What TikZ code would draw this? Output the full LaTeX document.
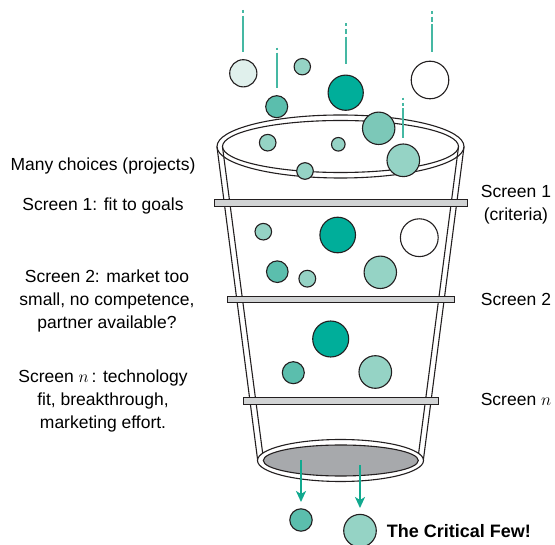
\documentclass[tikz,border=0pt]{standalone}
\usepackage{fontspec}
\setmainfont{Liberation Sans}
\usetikzlibrary{arrows.meta}
\definecolor{tealD}{HTML}{00AE9A}
\definecolor{tealM}{HTML}{5BBEAD}
\definecolor{tealL}{HTML}{95D3C5}
\definecolor{tealLL}{HTML}{7CC8B8}
\definecolor{paleT}{HTML}{E0F0EC}
\definecolor{lineT}{HTML}{45B8A3}
\definecolor{arrowT}{HTML}{12A98F}
\definecolor{outl}{HTML}{231F20}
\definecolor{barG}{HTML}{D1D3D4}
\definecolor{ellG}{HTML}{A7A9AC}
\begin{document}
\begin{tikzpicture}[x=1pt,y=-1pt,
  ball/.style={circle, draw=outl, line width=1.1pt, inner sep=0pt, outer sep=0pt},
  wall/.style={draw=outl, line width=1.1pt},
  barbox/.style={draw=outl, fill=barG, line width=1pt},
  dropline/.style={draw=lineT, line width=2pt, line cap=butt},
  flow/.style={draw=arrowT, line width=2.2pt, -{Stealth[length=11pt,width=10pt,inset=3pt]}},
  lbl/.style={font=\fontsize{17.5}{22.8}\selectfont, align=center, inner sep=0pt, anchor=base},
  bold/.style={font=\fontsize{18}{22}\selectfont\bfseries, inner sep=0pt, anchor=base west}]
\useasboundingbox (0,0) rectangle (555,545);
\fill[white] (0,0) rectangle (555,545);

% funnel walls
\draw[wall] (217,147) -- (257.7,460.5);
\draw[wall] (222.5,147) -- (263.3,458);
\draw[wall] (464,147) -- (423.3,460.5);
\draw[wall] (458.5,147) -- (418,458);

% top rim
\draw[wall] (340.5,146.5) ellipse [x radius=123.5pt, y radius=31.5pt];
\draw[wall] (340.5,146.5) ellipse [x radius=118pt, y radius=26pt];

% bottom
\filldraw[wall, fill=white] (340.5,460.5) ellipse [x radius=83pt, y radius=21pt];
\filldraw[wall, fill=ellG] (340.8,460.5) ellipse [x radius=77.5pt, y radius=15.5pt];

% screens
\draw[barbox] (214,199.5) rectangle (467,206.5);
\draw[barbox] (227,296.3) rectangle (454,302.8);
\draw[barbox] (243,397.5) rectangle (438,404.2);

% balls above / in rim
\node[ball, fill=paleT, minimum size=27.2pt] (ba) at (243.3,73.3) {};
\node[ball, fill=tealL, minimum size=16.4pt] (bb) at (302.3,66.7) {};
\node[ball, fill=tealM, minimum size=22pt] (bc) at (276.7,106.7) {};
\node[ball, fill=tealD, minimum size=35.2pt] (bd) at (345.7,92.7) {};
\node[ball, fill=white, minimum size=37.6pt] (be) at (430,80) {};
\node[ball, fill=tealLL, minimum size=32.4pt] (bf) at (378.7,128.3) {};
\node[ball, fill=tealL, minimum size=16.6pt] (bg) at (267.7,142.7) {};
\node[ball, fill=tealL, minimum size=13.6pt] (bh) at (338.3,144.3) {};
\node[ball, fill=tealL, minimum size=16.6pt] (bi) at (305,171) {};
\node[ball, fill=tealL, minimum size=32.6pt] (bj) at (403.3,160.3) {};
% section 1
\node[ball, fill=tealL, minimum size=16.6pt] (bk) at (263.3,231.7) {};
\node[ball, fill=tealD, minimum size=35.6pt] (bl) at (337.7,235) {};
\node[ball, fill=white, minimum size=37.8pt] (bm) at (419.3,237.7) {};
\node[ball, fill=tealM, minimum size=21.6pt] (bn) at (277.3,271.7) {};
\node[ball, fill=tealL, minimum size=16.8pt] (bo) at (307.3,278.7) {};
\node[ball, fill=tealL, minimum size=32.4pt] (bp) at (380.3,272.3) {};
% section 2
\node[ball, fill=tealD, minimum size=36pt] (bq) at (330.7,339) {};
\node[ball, fill=tealM, minimum size=22pt] (br) at (293.3,372.7) {};
\node[ball, fill=tealL, minimum size=32.6pt] (bs) at (375.3,372) {};
% output
\node[ball, fill=tealM, minimum size=22.4pt] (bt) at (301,520) {};
\node[ball, fill=tealL, minimum size=32.6pt] (bu) at (360,530.7) {};

% drop lines (drawn as separate segments)
\coordinate (la1) at (243,10);   \coordinate (la2) at (243,13.3);
\coordinate (la3) at (243,16);   \coordinate (la4) at (243,51.7);
\draw[dropline] (la1) -- (la2);
\draw[dropline] (la3) -- (la4);
\coordinate (lc1) at (277,47.7); \coordinate (lc2) at (277,50.2);
\coordinate (lc3) at (277,52.7); \coordinate (lc4) at (277,88.3);
\draw[dropline] (lc1) -- (lc2);
\draw[dropline] (lc3) -- (lc4);
\coordinate (ld1) at (346,23.3); \coordinate (ld2) at (346,26);
\coordinate (ld3) at (346,29);   \coordinate (ld4) at (346,33.7);
\coordinate (ld5) at (346,36.7); \coordinate (ld6) at (346,64.3);
\draw[dropline] (ld1) -- (ld2);
\draw[dropline] (ld3) -- (ld4);
\draw[dropline] (ld5) -- (ld6);
\coordinate (le1) at (432,11);   \coordinate (le2) at (432,14);
\coordinate (le3) at (432,16.7); \coordinate (le4) at (432,21.7);
\coordinate (le5) at (432,24.3); \coordinate (le6) at (432,51.7);
\draw[dropline] (le1) -- (le2);
\draw[dropline] (le3) -- (le4);
\draw[dropline] (le5) -- (le6);
\coordinate (lj1) at (403,97.7); \coordinate (lj2) at (403,100.2);
\coordinate (lj3) at (403,102.9); \coordinate (lj4) at (403,105.9);
\coordinate (lj5) at (403,108.4); \coordinate (lj6) at (403,138.3);
\draw[dropline] (lj1) -- (lj2);
\draw[dropline] (lj3) -- (lj4);
\draw[dropline] (lj5) -- (lj6);

% output arrows
\coordinate (fa1) at (301,460); \coordinate (fa2) at (301,502);
\coordinate (fb1) at (360,465); \coordinate (fb2) at (360,508);
\draw[flow] (fa1) -- (fa2);
\draw[flow] (fb1) -- (fb2);

% labels left
\node[lbl] (t1) at (103,170.5) {Many choices (projects)};
\node[lbl] (t2) at (103,211) {Screen 1: fit to goals};
\node[lbl] (t3) at (107,328.3) {Screen 2: market too\\small, no competence,\\partner available?};
\node[lbl] (t4) at (103,428.3) {Screen $n$\,: technology\\fit, breakthrough,\\marketing effort.};
% labels right
\node[lbl] (r1) at (516,220.5) {Screen 1\\(criteria)};
\node[lbl] (r2) at (516,305.5) {Screen 2};
\node[lbl] (r3) at (516,406) {Screen $n$};
% result
\node[bold] (cf) at (386.7,537.3) {The Critical Few!};
\end{tikzpicture}
\end{document}
